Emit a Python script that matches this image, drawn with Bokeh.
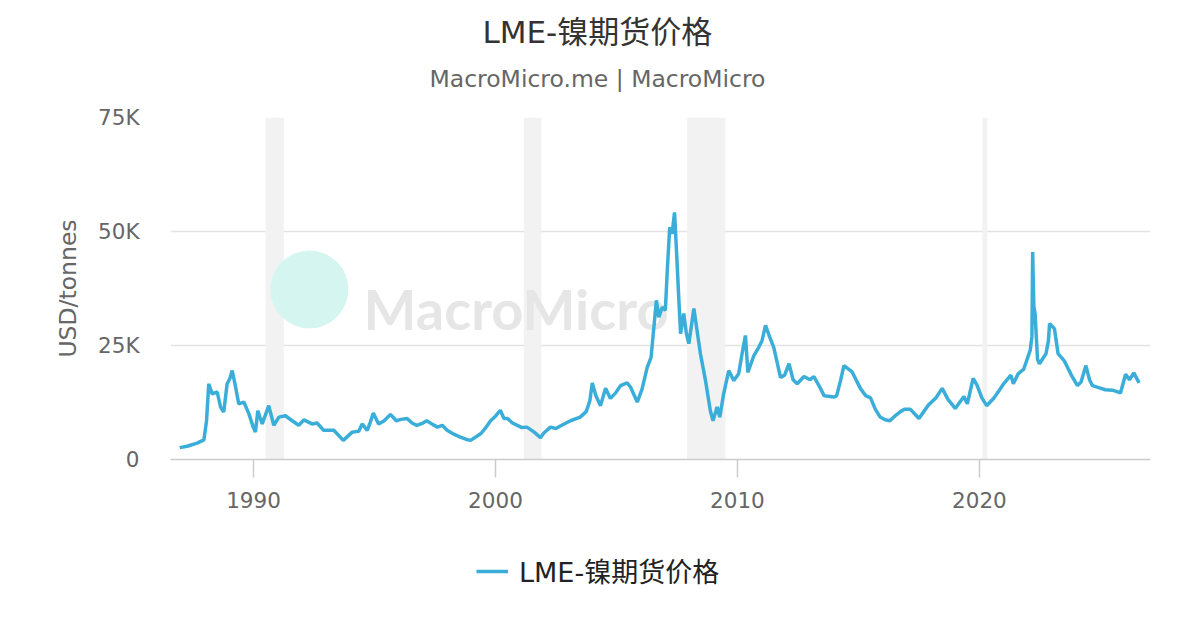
from bokeh.plotting import figure
from bokeh.layouts import column
from bokeh.models import Range1d, FixedTicker, Legend, LegendItem, Title, ColumnDataSource
from bokeh.core.properties import value
from bokeh.embed import file_html
from bokeh.resources import INLINE

# ---- data ----
years = [
    1986.95, 1987.26, 1987.67, 1987.95, 1988.06, 1988.15, 1988.29, 1988.5, 1988.64, 1988.77,
    1988.91, 1989.02, 1989.12, 1989.26, 1989.39, 1989.6, 1989.81, 1989.99, 1990.08, 1990.18,
    1990.36, 1990.63, 1990.84, 1991.05, 1991.32, 1991.6, 1991.87, 1992.08, 1992.42, 1992.63,
    1992.9, 1993.32, 1993.71, 1994.08, 1994.35, 1994.49, 1994.7, 1994.83, 1994.95, 1995.17,
    1995.4, 1995.66, 1995.9, 1996.1, 1996.35, 1996.55, 1996.75, 1997.0, 1997.16, 1997.4,
    1997.6, 1997.8, 1998.0, 1998.3, 1998.55, 1998.8, 1998.97, 1999.2, 1999.4, 1999.6,
    1999.8, 2000.0, 2000.2, 2000.35, 2000.5, 2000.7, 2000.9, 2001.1, 2001.3, 2001.6,
    2001.86, 2002.0, 2002.27, 2002.5, 2002.7, 2003.1, 2003.5, 2003.75, 2003.9, 2004.0,
    2004.15, 2004.34, 2004.55, 2004.75, 2004.95, 2005.17, 2005.44, 2005.58, 2005.86, 2006.06,
    2006.27, 2006.43, 2006.65, 2006.75, 2006.89, 2007.02, 2007.1, 2007.2, 2007.3, 2007.4,
    2007.48, 2007.58, 2007.65, 2007.78, 2007.89, 2007.99, 2008.2, 2008.33, 2008.47, 2008.68,
    2008.88, 2008.99, 2009.16, 2009.27, 2009.43, 2009.64, 2009.85, 2010.05, 2010.19, 2010.33,
    2010.43, 2010.68, 2010.88, 2011.02, 2011.16, 2011.34, 2011.5, 2011.78, 2011.95, 2012.13,
    2012.3, 2012.47, 2012.75, 2013.0, 2013.16, 2013.43, 2013.58, 2014.0, 2014.1, 2014.26,
    2014.4, 2014.74, 2015.08, 2015.3, 2015.5, 2015.7, 2015.9, 2016.1, 2016.3, 2016.5,
    2016.74, 2016.9, 2017.15, 2017.5, 2017.7, 2017.9, 2018.2, 2018.46, 2018.7, 2019.0,
    2019.36, 2019.5, 2019.74, 2019.9, 2020.1, 2020.3, 2020.6, 2020.8, 2021.0, 2021.3,
    2021.4, 2021.6, 2021.83, 2022.1, 2022.17, 2022.2, 2022.25, 2022.3, 2022.4, 2022.48,
    2022.75, 2022.85, 2022.9, 2023.1, 2023.25, 2023.5, 2023.8, 2024.05, 2024.2, 2024.4,
    2024.55, 2024.67, 2024.9, 2025.2, 2025.5, 2025.83, 2026.04, 2026.2, 2026.38, 2026.6,
]
price_k = [
    2.6, 2.9, 3.6, 4.3, 8.5, 16.6, 14.4, 14.8, 11.5, 10.4,
    16.6, 17.7, 19.5, 15.9, 12.2, 12.6, 10.0, 7.1, 6.0, 10.7,
    7.8, 11.8, 7.5, 9.3, 9.6, 8.5, 7.5, 8.7, 7.8, 8.0,
    6.4, 6.4, 4.2, 6.0, 6.2, 7.8, 6.4, 8.2, 10.2, 7.8,
    8.5, 9.9, 8.5, 8.8, 9.0, 8.0, 7.5, 8.0, 8.5, 7.7,
    7.1, 7.5, 6.4, 5.5, 4.9, 4.4, 4.2, 5.0, 5.7, 7.0,
    8.5, 9.5, 10.8, 9.0, 9.0, 8.0, 7.5, 7.0, 7.1, 6.0,
    4.8, 5.8, 7.1, 6.8, 7.4, 8.5, 9.3, 10.5, 12.9, 16.8,
    14.0, 11.8, 15.6, 13.4, 14.5, 16.2, 16.8, 15.9, 12.6, 15.5,
    20.2, 22.4, 34.9, 31.2, 33.4, 32.7, 41.4, 50.9, 49.5, 54.2,
    45.8, 34.9, 27.6, 32.0, 27.6, 25.4, 33.1, 28.3, 23.2, 17.3,
    10.7, 8.5, 11.5, 9.3, 14.4, 19.5, 17.3, 18.8, 23.2, 27.2,
    19.1, 22.8, 24.6, 26.1, 29.4, 26.8, 24.6, 18.0, 18.5, 21.0,
    17.5, 16.6, 18.2, 17.5, 18.2, 15.6, 14.0, 13.7, 14.0, 17.3,
    20.6, 19.2, 15.6, 14.0, 13.5, 11.0, 9.3, 8.7, 8.5, 9.5,
    10.5, 11.0, 11.0, 9.0, 10.5, 12.0, 13.5, 15.6, 13.2, 11.2,
    13.8, 12.2, 17.8, 16.3, 13.5, 11.8, 13.5, 15.0, 16.6, 18.5,
    16.6, 18.8, 19.8, 24.0, 27.0, 45.5, 33.5, 32.0, 22.0, 21.0,
    23.2, 26.0, 29.8, 28.7, 23.2, 21.7, 18.5, 16.2, 17.0, 20.6,
    17.5, 16.2, 15.8, 15.3, 15.2, 14.6, 18.7, 17.5, 19.0, 16.8,
]
price = [v * 1000 for v in price_k]

rec_start = [1990.5, 2001.17, 2007.92, 2020.12]
rec_end = [1991.25, 2001.9, 2009.5, 2020.33]

x_ticks = [1990, 2000, 2010, 2020]
y_ticks = [0, 25000, 50000, 75000]
y_tick_labels = ["0", "25K", "50K", "75K"]

series_name = "LME-镍期货价格"
title_text = "LME-镍期货价格"
subtitle_text = "MacroMicro.me | MacroMicro"
y_label = "USD/tonnes"

FONT = "DejaVu Sans, Noto Sans CJK SC"
LINE_COLOR = "#3aaed9"

p = figure(
    width=1184, height=539,
    frame_width=980, frame_height=342,
    min_border_left=170, min_border_right=34,
    min_border_top=117, min_border_bottom=80,
    x_range=Range1d(1986.57, 2027.07), y_range=Range1d(0, 75000),
    output_backend="svg", toolbar_location=None, title=None,
)
p.outline_line_color = None
p.background_fill_color = "white"
p.border_fill_color = "white"

# titles (first added is closest to the frame)
p.add_layout(Title(text=subtitle_text, align="left", offset=259,
                   text_font=FONT, text_font_size="23.5px", text_font_style="normal",
                   text_color="#666666", standoff=50), "above")
p.add_layout(Title(text=title_text, align="left", offset=312,
                   text_font=FONT, text_font_size="31px", text_font_style="normal",
                   text_color="#333333", standoff=-25), "above")

# recession bands
rec_src = ColumnDataSource(dict(left=rec_start, right=rec_end,
                                bottom=[0] * len(rec_start), top=[75000] * len(rec_start)))
p.quad(left="left", right="right", bottom="bottom", top="top", source=rec_src,
       fill_color="#f2f2f2", line_color=None)

# watermark
p.scatter(x=[1992.31], y=[37300], size=78, fill_color="#d5f6f0", line_color=None)
p.text(x=[1994.55], y=[33100], text=["MacroMicro"], text_font=value("Lato"),
       text_font_style="bold", text_font_size="56px", text_color="#e6e6e6",
       text_baseline="alphabetic")

# main line
line_src = ColumnDataSource(dict(x=years, y=price))
p.line("x", "y", source=line_src, line_color=LINE_COLOR, line_width=3.5)

# axes
p.xaxis.ticker = FixedTicker(ticks=x_ticks)
p.xaxis.axis_line_color = "#cccccc"
p.xaxis.axis_line_width = 1.5
p.xaxis.major_tick_line_color = "#cccccc"
p.xaxis.major_tick_line_width = 1.5
p.xaxis.major_tick_out = 18
p.xaxis.major_tick_in = 0
p.xaxis.minor_tick_line_color = None
p.xaxis.major_label_text_font = FONT
p.xaxis.major_label_text_font_size = "21.5px"
p.xaxis.major_label_text_color = "#666666"
p.xaxis.major_label_standoff = 14

p.yaxis.ticker = FixedTicker(ticks=y_ticks)
p.yaxis.major_label_overrides = {t: l for t, l in zip(y_ticks, y_tick_labels)}
p.yaxis.axis_line_color = None
p.yaxis.major_tick_line_color = None
p.yaxis.minor_tick_line_color = None
p.yaxis.major_label_text_font = FONT
p.yaxis.major_label_text_font_size = "21.5px"
p.yaxis.major_label_text_color = "#666666"
p.yaxis.major_label_standoff = 25
p.yaxis.axis_label = y_label
p.yaxis.axis_label_text_font = FONT
p.yaxis.axis_label_text_font_size = "23.5px"
p.yaxis.axis_label_text_font_style = "normal"
p.yaxis.axis_label_text_color = "#666666"
p.yaxis.axis_label_standoff = 13

p.xgrid.grid_line_color = None
p.ygrid.grid_line_color = "#e3e3e3"
p.ygrid.grid_line_width = 1.3

# legend strip below the chart (its frame is aligned with the chart frame)
lg = figure(width=1184, height=86, min_border=0,
            x_range=Range1d(0, 1), y_range=Range1d(0, 1),
            x_axis_location=None, y_axis_location=None,
            output_backend="svg", toolbar_location=None, title=None)
lg.outline_line_color = None
lg.xgrid.grid_line_color = None
lg.ygrid.grid_line_color = None
lg.border_fill_color = "white"
# same series, out of this strip's view: only its legend swatch is seen
lr = lg.line("x", "y", source=line_src, line_color=LINE_COLOR, line_width=3.5)
legend = Legend(items=[LegendItem(label=series_name, renderers=[lr])],
                location=(306, 35), orientation="horizontal",
                label_text_font=FONT, label_text_font_size="27px", label_text_color="#222222",
                glyph_width=32, glyph_height=30, label_standoff=11,
                padding=0, margin=0, border_line_color=None, background_fill_alpha=0)
lg.add_layout(legend, "center")

layout = column(p, lg, spacing=0)
open("out.html", "w").write(file_html(layout, INLINE))
